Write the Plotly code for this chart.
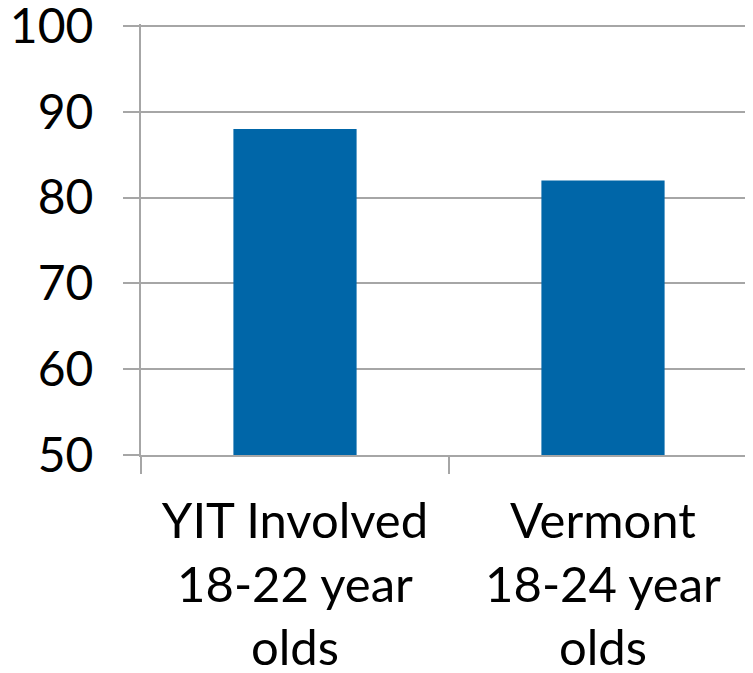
import plotly.graph_objects as go

categories = ["YIT Involved<br>18-22 year<br>olds", "Vermont<br>18-24 year<br>olds"]
values = [88, 82]
y_ticks = [50, 60, 70, 80, 90, 100]

grey = "#A6A6A6"
fig = go.Figure(go.Bar(x=categories, y=values, marker_color="#0066A8", width=0.4,
                       marker_line_width=0))
fig.update_layout(
    width=745, height=665,
    margin=dict(l=133, r=0, t=16, b=218, autoexpand=False),
    paper_bgcolor="white", plot_bgcolor="white",
    font=dict(family="Lato", size=48, color="black"),
    showlegend=False,
)
fig.update_xaxes(type="category", range=[-0.5, 1.487], tickson="boundaries",
                 ticks="outside", ticklen=17, tickwidth=2, tickcolor=grey,
                 showline=True, linecolor=grey, linewidth=2, showgrid=False,
                 automargin=False, ticklabelstandoff=22, tickfont=dict(size=49),
                 ticklabeloverflow="allow")
fig.update_yaxes(range=[50, 100.233], tickvals=y_ticks, ticks="outside", ticklen=16,
                 tickwidth=2, tickcolor=grey, showgrid=True, gridcolor=grey, gridwidth=2,
                 showline=True, linecolor=grey, linewidth=2, zeroline=False,
                 automargin=False, ticklabelstandoff=20, tickfont=dict(size=48),
                 ticklabeloverflow="allow")
fig.write_html("out.html")
